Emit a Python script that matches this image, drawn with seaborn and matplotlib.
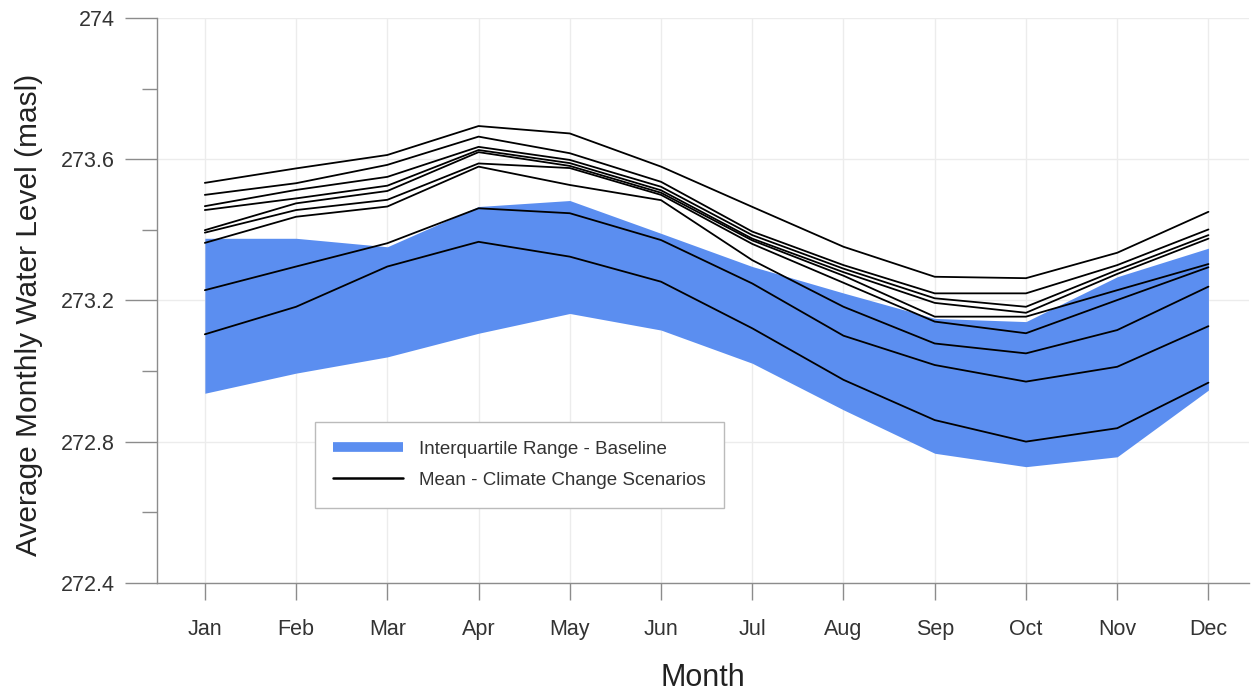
import numpy as np
import pandas as pd
import matplotlib
matplotlib.use("Agg")
import matplotlib.pyplot as plt
from matplotlib.ticker import MultipleLocator
from matplotlib.lines import Line2D
import seaborn as sns

months = ["Jan", "Feb", "Mar", "Apr", "May", "Jun", "Jul", "Aug", "Sep", "Oct", "Nov", "Dec"]

# interquartile range of the baseline
iqr_upper = [273.376, 273.376, 273.352, 273.466, 273.483, 273.390,
             273.296, 273.221, 273.149, 273.140, 273.267, 273.348]
iqr_lower = [272.937, 272.994, 273.040, 273.107, 273.163, 273.116,
             273.022, 272.890, 272.767, 272.729, 272.757, 272.946]

# mean levels of the climate change scenarios
scen_1 = [273.533, 273.574, 273.612, 273.694, 273.673, 273.579, 273.465, 273.352, 273.267, 273.263, 273.335, 273.451]
scen_2 = [273.499, 273.532, 273.584, 273.664, 273.617, 273.536, 273.395, 273.300, 273.220, 273.220, 273.300, 273.401]
scen_3 = [273.467, 273.513, 273.550, 273.635, 273.598, 273.522, 273.385, 273.290, 273.206, 273.182, 273.286, 273.385]
scen_4 = [273.456, 273.489, 273.525, 273.626, 273.589, 273.512, 273.375, 273.280, 273.193, 273.165, 273.275, 273.375]
scen_5 = [273.399, 273.475, 273.510, 273.620, 273.581, 273.505, 273.370, 273.270, 273.154, 273.154, 273.229, 273.303]
scen_6 = [273.392, 273.456, 273.485, 273.588, 273.575, 273.499, 273.360, 273.250, 273.140, 273.107, 273.201, 273.294]
scen_7 = [273.363, 273.437, 273.466, 273.579, 273.527, 273.484, 273.314, 273.182, 273.078, 273.050, 273.116, 273.239]
scen_8 = [273.229, 273.296, 273.362, 273.461, 273.447, 273.371, 273.248, 273.100, 273.017, 272.970, 273.012, 273.127]
scen_9 = [273.104, 273.182, 273.296, 273.366, 273.324, 273.253, 273.121, 272.975, 272.861, 272.800, 272.838, 272.967]

scenarios = [scen_1, scen_2, scen_3, scen_4, scen_5, scen_6, scen_7, scen_8, scen_9]

month_idx = np.arange(1, 13)
df = pd.concat([
    pd.DataFrame({"month": month_idx, "level": s, "scenario": f"S{i + 1}"})
    for i, s in enumerate(scenarios)
])

sns.set_style("white")
plt.rcParams["font.family"] = ["Liberation Sans", "DejaVu Sans"]

blue = "#5b8ef0"
grey = "#8c8c8c"

fig = plt.figure(figsize=(12.52, 6.93), dpi=100)
ax = fig.add_axes([0.125, 0.159, 0.873, 0.815])

ax.fill_between(month_idx, iqr_lower, iqr_upper, color=blue, linewidth=0, zorder=2)
sns.lineplot(data=df, x="month", y="level", hue="scenario", palette=["black"] * 9,
             linewidth=1.3, legend=False, ax=ax, zorder=3)

ax.set_xlim(0.47, 12.45)
ax.set_ylim(272.4, 274.0)
ax.set_xticks(month_idx)
ax.set_xticklabels(months)
ax.yaxis.set_minor_locator(MultipleLocator(0.2))
ax.set_yticks([272.4, 272.8, 273.2, 273.6, 274.0])
ax.set_yticklabels(["272.4", "272.8", "273.2", "273.6", "274"])

ax.grid(True, which="major", color="#ececec", linewidth=1.0, zorder=0)
ax.set_axisbelow(True)

for side in ["top", "right"]:
    ax.spines[side].set_visible(False)
for side in ["left", "bottom"]:
    ax.spines[side].set_color(grey)
    ax.spines[side].set_linewidth(1.0)

ax.tick_params(axis="x", which="major", direction="out", length=12, width=1,
               color=grey, labelsize=15.5, labelcolor="#333333", pad=14, bottom=True)
ax.tick_params(axis="y", which="major", direction="out", length=23, width=1,
               color=grey, labelsize=15.5, labelcolor="#333333", pad=7, left=True)
ax.tick_params(axis="y", which="minor", direction="out", length=11, width=1,
               color=grey, left=True)

ax.set_xlabel("Month", fontsize=22, color="#222222")
ax.xaxis.set_label_coords(0.5, -0.142)
ax.set_ylabel("Average Monthly Water Level (masl)", fontsize=21.5, color="#222222")
ax.yaxis.set_label_coords(-0.104, 0.474)

handles = [Line2D([], [], color=blue, linewidth=7, solid_capstyle="butt"),
           Line2D([], [], color="black", linewidth=1.8)]
leg = ax.legend(handles, ["Interquartile Range - Baseline", "Mean - Climate Change Scenarios"],
                loc="upper left", bbox_to_anchor=(0.1446, 0.285), fontsize=13.5,
                handlelength=3.7, handletextpad=0.85, borderpad=1.0, labelspacing=0.75,
                borderaxespad=0, frameon=True, fancybox=False, edgecolor="#bbbbbb", framealpha=1)
for t in leg.get_texts():
    t.set_color("#333333")

fig.savefig("out.png", dpi=100)
